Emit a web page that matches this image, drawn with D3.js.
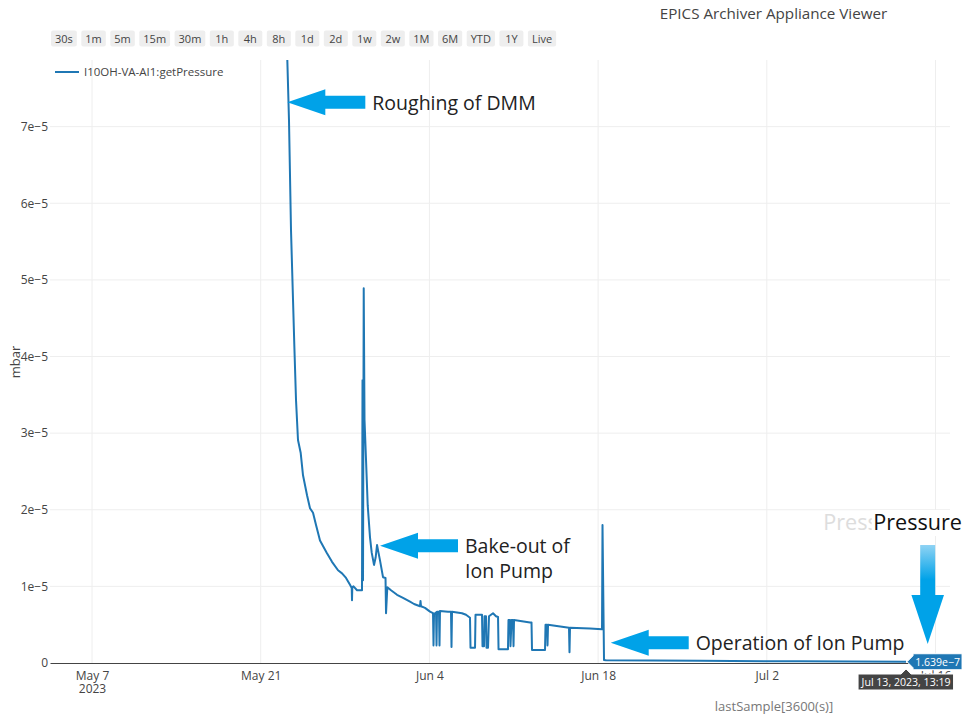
<!DOCTYPE html>
<html>
<head>
<meta charset="utf-8">
<script src="https://cdn.jsdelivr.net/npm/d3@7/dist/d3.min.js"></script>
<style>
  body { margin: 0; background: #fff; }
  svg { display: block; font-family: "Open Sans", sans-serif; }
</style>
</head>
<body>
<svg width="962" height="716"></svg>
<script>
// range selector buttons across the top
const rangeButtons = ["30s", "1m", "5m", "15m", "30m", "1h", "4h", "8h", "1d", "2d", "1w", "2w", "1M", "6M", "YTD", "1Y", "Live"];

// axis ticks
const yTicks = [0, 1e-5, 2e-5, 3e-5, 4e-5, 5e-5, 6e-5, 7e-5];
const xTicks = ["2023-05-07 00:00", "2023-05-21 00:00", "2023-06-04 00:00", "2023-06-18 00:00", "2023-07-02 00:00", "2023-07-16 00:00"];
const xRange = ["2023-05-03 12:20", "2023-07-17 04:50"];
const yRange = [0, 7.87e-5];

// I10OH-VA-AI1:getPressure
const sampleTimes = [
  "2023-05-23 05:00", "2023-05-23 08:20", "2023-05-23 12:20", "2023-05-23 16:20", "2023-05-23 18:55",
  "2023-05-23 22:20", "2023-05-24 02:15", "2023-05-24 07:40", "2023-05-24 12:15", "2023-05-24 20:15",
  "2023-05-25 02:10", "2023-05-25 08:10", "2023-05-25 14:10", "2023-05-25 22:05", "2023-05-26 11:25",
  "2023-05-26 22:00", "2023-05-27 10:00", "2023-05-27 18:00", "2023-05-28 01:55", "2023-05-28 09:50",
  "2023-05-28 13:15", "2023-05-28 13:50", "2023-05-28 14:25", "2023-05-28 16:50", "2023-05-28 23:50",
  "2023-05-29 09:45", "2023-05-29 10:45", "2023-05-29 11:45", "2023-05-29 13:10", "2023-05-29 14:45",
  "2023-05-29 17:45", "2023-05-29 21:05", "2023-05-30 01:40", "2023-05-30 05:05", "2023-05-30 09:40",
  "2023-05-30 13:00", "2023-05-30 15:40", "2023-05-30 18:35", "2023-05-30 21:35", "2023-05-31 03:35",
  "2023-05-31 08:35", "2023-05-31 09:35", "2023-05-31 12:10", "2023-05-31 19:30", "2023-06-01 07:30",
  "2023-06-01 19:25", "2023-06-02 09:20", "2023-06-02 17:20", "2023-06-03 05:15", "2023-06-03 06:15",
  "2023-06-03 07:15", "2023-06-03 15:15", "2023-06-04 01:10", "2023-06-04 07:10", "2023-06-04 08:10",
  "2023-06-04 09:10", "2023-06-04 13:10", "2023-06-04 14:10", "2023-06-04 15:10", "2023-06-04 19:05",
  "2023-06-04 20:05", "2023-06-04 21:05", "2023-06-05 13:00", "2023-06-05 19:00", "2023-06-05 20:00",
  "2023-06-05 21:00", "2023-06-06 16:55", "2023-06-07 00:55", "2023-06-07 08:50", "2023-06-07 09:50",
  "2023-06-07 18:50", "2023-06-07 19:50", "2023-06-08 08:45", "2023-06-08 09:45", "2023-06-08 12:45",
  "2023-06-08 13:45", "2023-06-08 16:45", "2023-06-08 17:45", "2023-06-08 20:45", "2023-06-08 22:40",
  "2023-06-09 06:40", "2023-06-09 12:40", "2023-06-09 16:40", "2023-06-09 17:40", "2023-06-10 12:30",
  "2023-06-10 13:30", "2023-06-10 16:30", "2023-06-10 17:30", "2023-06-10 19:30", "2023-06-10 22:30",
  "2023-06-10 23:30", "2023-06-11 00:30", "2023-06-12 08:25", "2023-06-12 11:20", "2023-06-12 12:20",
  "2023-06-13 14:15", "2023-06-13 15:15", "2023-06-13 18:15", "2023-06-13 19:15", "2023-06-13 20:15",
  "2023-06-15 14:00", "2023-06-15 15:00", "2023-06-15 16:00", "2023-06-17 07:50", "2023-06-18 07:45",
  "2023-06-18 08:45", "2023-06-18 11:45", "2023-06-18 15:45", "2023-06-26 11:00", "2023-07-04 18:00",
  "2023-07-13 13:19"
];
const pressureMbar = [
  7.87e-5, 7.08e-5, 5.65e-5, 4.74e-5, 4.15e-5,
  3.43e-5, 2.91e-5, 2.74e-5, 2.45e-5, 2.19e-5,
  2.02e-5, 1.96e-5, 1.80e-5, 1.60e-5, 1.44e-5,
  1.32e-5, 1.21e-5, 1.17e-5, 1.11e-5, 1.02e-5,
  0.98e-5, 0.82e-5, 0.99e-5, 1.00e-5, 0.95e-5,
  0.95e-5, 3.69e-5, 1.08e-5, 4.89e-5, 3.17e-5,
  2.65e-5, 2.06e-5, 1.64e-5, 1.44e-5, 1.28e-5,
  1.38e-5, 1.54e-5, 1.44e-5, 1.34e-5, 1.12e-5,
  1.11e-5, 0.65e-5, 0.99e-5, 0.95e-5, 0.89e-5,
  0.85e-5, 0.80e-5, 0.77e-5, 0.74e-5, 0.81e-5,
  0.74e-5, 0.72e-5, 0.67e-5, 0.65e-5, 0.23e-5,
  0.64e-5, 0.66e-5, 0.23e-5, 0.67e-5, 0.67e-5,
  0.23e-5, 0.68e-5, 0.67e-5, 0.67e-5, 0.21e-5,
  0.67e-5, 0.65e-5, 0.63e-5, 0.59e-5, 0.20e-5,
  0.20e-5, 0.63e-5, 0.63e-5, 0.22e-5, 0.22e-5,
  0.61e-5, 0.61e-5, 0.20e-5, 0.20e-5, 0.61e-5,
  0.65e-5, 0.61e-5, 0.60e-5, 0.18e-5, 0.18e-5,
  0.56e-5, 0.56e-5, 0.22e-5, 0.56e-5, 0.56e-5,
  0.22e-5, 0.56e-5, 0.53e-5, 0.53e-5, 0.17e-5,
  0.17e-5, 0.50e-5, 0.50e-5, 0.23e-5, 0.50e-5,
  0.46e-5, 0.14e-5, 0.46e-5, 0.45e-5, 0.44e-5,
  1.80e-5, 4.0e-7, 3.5e-7, 2.8e-7, 2.2e-7,
  1.639e-7
];

// callouts: arrow tip in data space, label lines
const calloutTips = [["2023-05-23 05:00", 7.32e-5], ["2023-05-30 21:35", 1.53e-5], ["2023-06-19 01:05", 0.265e-5]];
const calloutLabels = [["Roughing of DMM"], ["Bake-out of", "Ion Pump"], ["Operation of Ion Pump"]];
const pressureTip = ["2023-07-15 08:25", 0.248e-5];
const pressureLabel = "Pressure";

const svg = d3.select("svg");
const margin = {left: 50, right: 12, top: 60, bottom: 53};
const W = +svg.attr("width"), H = +svg.attr("height");
const parse = d3.timeParse("%Y-%m-%d %H:%M");

const x = d3.scaleTime().domain(xRange.map(parse)).range([margin.left, W - margin.right]);
const y = d3.scaleLinear().domain(yRange).range([H - margin.bottom, margin.top]);

const data = sampleTimes.map((t, i) => ({t: parse(t), v: pressureMbar[i]}));
const lineColor = "#1f77b4";
const arrowColor = "#00a2e8";

// title
svg.append("text")
  .attr("x", 773.5).attr("y", 18.5)
  .attr("text-anchor", "middle")
  .attr("font-size", 15.2).attr("fill", "#444")
  .text("EPICS Archiver Appliance Viewer");

// range buttons
let bx = 51;
const buttons = svg.append("g").attr("class", "buttons");
rangeButtons.forEach(label => {
  const g = buttons.append("g");
  const rect = g.append("rect").attr("y", 30.5).attr("height", 16).attr("rx", 2).attr("fill", "#eeeeee");
  const txt = g.append("text").attr("y", 42.5).attr("font-size", 11).attr("fill", "#444")
    .attr("text-anchor", "middle").text(label);
  const w = Math.max(24, txt.node().getComputedTextLength() + 8);
  rect.attr("x", bx).attr("width", w);
  txt.attr("x", bx + w / 2);
  bx += w + 4.5;
});

// grid
const grid = svg.append("g").attr("class", "grid");
grid.selectAll(".vgrid")
  .data(xTicks.map(parse))
  .enter().append("line")
    .attr("x1", d => x(d)).attr("x2", d => x(d))
    .attr("y1", margin.top).attr("y2", H - margin.bottom)
    .attr("stroke", "#eeeeee").attr("stroke-width", 1);
grid.selectAll(".hgrid")
  .data(yTicks.filter(d => d > 0))
  .enter().append("line")
    .attr("x1", margin.left).attr("x2", W - margin.right)
    .attr("y1", d => y(d)).attr("y2", d => y(d))
    .attr("stroke", "#eeeeee").attr("stroke-width", 1);

// y axis labels
const yFmt = d => d === 0 ? "0" : Math.round(d / 1e-5) + "e\u22125";
const yAxis = svg.append("g")
  .attr("transform", `translate(${margin.left - 2},0)`)
  .call(d3.axisLeft(y).tickValues(yTicks).tickFormat(yFmt).tickSize(0).tickPadding(0));
yAxis.select(".domain").remove();
yAxis.selectAll("text").attr("font-family", "Open Sans, sans-serif").attr("font-size", 12).attr("fill", "#444");

svg.append("text")
  .attr("transform", "translate(20,362) rotate(-90)")
  .attr("text-anchor", "middle")
  .attr("font-size", 13).attr("fill", "#444")
  .text("mbar");

// x axis
const xAxis = svg.append("g")
  .attr("transform", `translate(0,${H - margin.bottom})`)
  .call(d3.axisBottom(x).tickValues(xTicks.map(parse)).tickFormat(d3.timeFormat("%b %-d")).tickSize(0).tickPadding(0));
xAxis.select(".domain").attr("stroke", "#444");
xAxis.selectAll("text")
  .attr("font-family", "Open Sans, sans-serif").attr("font-size", 12).attr("fill", "#444")
  .attr("dy", null).attr("y", 16.5);
xAxis.selectAll(".tick").filter((d, i) => i === 0)
  .append("text")
    .attr("y", 30).attr("text-anchor", "middle")
    .attr("font-family", "Open Sans, sans-serif").attr("font-size", 12).attr("fill", "#444")
    .text(d3.timeFormat("%Y"));

svg.append("text")
  .attr("x", 774).attr("y", 711)
  .attr("text-anchor", "middle")
  .attr("font-size", 13).attr("fill", "#777")
  .text("lastSample[3600(s)]");

// trace
svg.append("clipPath").attr("id", "plot-clip")
  .append("rect")
    .attr("x", margin.left).attr("y", margin.top)
    .attr("width", W - margin.left - margin.right).attr("height", H - margin.top - margin.bottom);

svg.append("path")
  .datum(data)
  .attr("clip-path", "url(#plot-clip)")
  .attr("fill", "none")
  .attr("stroke", lineColor)
  .attr("stroke-width", 2)
  .attr("stroke-linejoin", "round")
  .attr("d", d3.line().x(d => x(d.t)).y(d => y(d.v)));

// legend
svg.append("line")
  .attr("x1", 55).attr("x2", 79).attr("y1", 72).attr("y2", 72)
  .attr("stroke", lineColor).attr("stroke-width", 2);
svg.append("text")
  .attr("x", 84).attr("y", 76)
  .attr("font-size", 11.5).attr("fill", "#444")
  .text("I10OH-VA-AI1:getPressure");

// left-pointing callout arrows
const leftArrow = "M0,0 L38,-13 L38,-6.5 L78,-6.5 L78,6.5 L38,6.5 L38,13 Z";
calloutTips.forEach(([t, v], i) => {
  const tx = x(parse(t)), ty = y(v);
  svg.append("path")
    .attr("transform", `translate(${tx},${ty})`)
    .attr("d", leftArrow)
    .attr("fill", arrowColor);
  const label = svg.append("text")
    .attr("x", tx + 85).attr("y", ty + 7.5)
    .attr("font-size", 19.5).attr("fill", "#222");
  calloutLabels[i].forEach((line, j) => {
    label.append("tspan").attr("x", tx + 85).attr("dy", j === 0 ? 0 : 24.5).text(line);
  });
});

// "Pressure" callout pointing down at the latest value
const px = x(parse(pressureTip[0])), py = y(pressureTip[1]);
const grad = svg.append("defs").append("linearGradient")
  .attr("id", "shaft").attr("x1", 0).attr("x2", 0).attr("y1", 0).attr("y2", 1);
grad.append("stop").attr("offset", "0%").attr("stop-color", "#8fd3f4");
grad.append("stop").attr("offset", "35%").attr("stop-color", arrowColor);
svg.append("path")
  .attr("transform", `translate(${px},${py})`)
  .attr("d", "M0,0 L-16.3,-49 L-7.5,-49 L-7.5,-99 L7.5,-99 L7.5,-49 L16.3,-49 Z")
  .attr("fill", "url(#shaft)");
svg.append("text")
  .attr("x", px - 104.5).attr("y", py - 114)
  .attr("font-size", 21.6).attr("fill", "#dddddd")
  .text(pressureLabel);
svg.append("rect")
  .attr("x", px - 56).attr("y", py - 134).attr("width", 90).attr("height", 26)
  .attr("fill", "#fff");
svg.append("text")
  .attr("x", px - 54.5).attr("y", py - 114)
  .attr("font-size", 21.6).attr("fill", "#111")
  .text(pressureLabel);

// hover labels on the last sample
const last = data[data.length - 1];
const lx = x(last.t), ly = y(last.v);
const valFmt = v => d3.format(".4~")(v).replace("-", "\u2212");
const vg = svg.append("g").attr("transform", `translate(${lx},${ly})`);
vg.append("path")
  .attr("d", "M1,0 L7,-6 L7,-8 L56,-8 L56,8 L7,8 L7,6 Z")
  .attr("fill", lineColor).attr("stroke", "#fff").attr("stroke-width", 1);
vg.append("text")
  .attr("x", 31.5).attr("y", 4).attr("text-anchor", "middle")
  .attr("font-size", 10.5).attr("fill", "#fff")
  .text(valFmt(last.v));

const dg = svg.append("g").attr("transform", `translate(${lx},${H - margin.bottom + 6})`);
dg.append("path")
  .attr("d", "M0,0 L5,5 L47.5,5 L47.5,21 L-48,21 L-48,5 L-5,5 Z")
  .attr("fill", "#444").attr("stroke", "#fff").attr("stroke-width", 1);
dg.append("text")
  .attr("x", 0).attr("y", 17).attr("text-anchor", "middle")
  .attr("font-size", 11).attr("fill", "#fff")
  .attr("textLength", 89).attr("lengthAdjust", "spacingAndGlyphs")
  .text(d3.timeFormat("%b %-d, %Y, %H:%M")(last.t));
</script>
</body>
</html>
